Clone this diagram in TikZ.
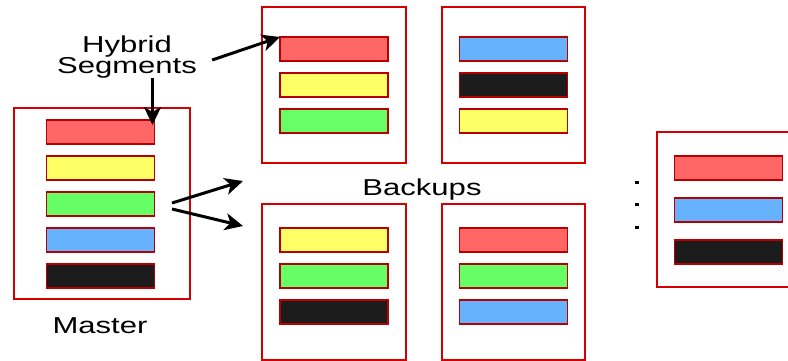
\documentclass[tikz,border=0pt]{standalone}
\usepackage{fontspec}
\setmainfont{Liberation Sans}
\usepackage{xcolor}
\definecolor{rahmen}{HTML}{D40000}
\definecolor{kante}{HTML}{B80000}
\definecolor{segrot}{HTML}{FF6666}
\definecolor{seggelb}{HTML}{FFFF66}
\definecolor{seggruen}{HTML}{66FF66}
\definecolor{segblau}{HTML}{66B2FF}
\definecolor{segschwarz}{HTML}{1C1C1C}
\usetikzlibrary{arrows.meta, positioning}

\begin{document}
\begin{tikzpicture}[x=1pt, y=-1pt, node distance=12pt,
    server/.style={rectangle, draw=rahmen, line width=1.3pt, anchor=north west, minimum width=144pt, minimum height=156pt, inner sep=0pt, outer sep=0pt},
    seg/.style={rectangle, draw=kante, line width=1.2pt, minimum width=108pt, minimum height=24pt, inner sep=0pt, outer sep=0pt},
    schrift/.style={font=\fontsize{23}{21}\selectfont, xscale=1.35, inner sep=0pt, align=center},
    pfeil/.style={-{Stealth[length=18pt, width=17pt, inset=5pt]}, line width=3pt}]

        \useasboundingbox (0,0) rectangle (788,360);

        % Master
        \node[server, minimum width=176pt, minimum height=191pt] (master) at (14,108) {};
        \node[seg, fill=segrot] (m1) at (100.5,132) {};
        \node[seg, below=of m1, fill=seggelb] (m2) {};
        \node[seg, below=of m2, fill=seggruen] (m3) {};
        \node[seg, below=of m3, fill=segblau] (m4) {};
        \node[seg, below=of m4, fill=segschwarz] (m5) {};
        \node[schrift, anchor=base] (masterlabel) at (100,333) {Master};

        % Erstes Backup oben
        \node[server] (b1) at (262,7) {};
        \node[seg, fill=segrot] (b11) at (334,49) {};
        \node[seg, below=of b11, fill=seggelb] (b12) {};
        \node[seg, below=of b12, fill=seggruen] (b13) {};

        % Zweites Backup oben
        \node[server, minimum width=143pt] (b2) at (442,7) {};
        \node[seg, fill=segblau] (b21) at (513.5,49) {};
        \node[seg, below=of b21, fill=segschwarz] (b22) {};
        \node[seg, below=of b22, fill=seggelb] (b23) {};

        % Drittes Backup unten
        \node[server] (b3) at (262,204) {};
        \node[seg, fill=seggelb] (b31) at (334,240) {};
        \node[seg, below=of b31, fill=seggruen] (b32) {};
        \node[seg, below=of b32, fill=segschwarz] (b33) {};

        % Viertes Backup unten
        \node[server, minimum width=143pt] (b4) at (442,204) {};
        \node[seg, fill=segrot] (b41) at (513.5,240) {};
        \node[seg, below=of b41, fill=seggruen] (b42) {};
        \node[seg, below=of b42, fill=segblau] (b43) {};

        \node[schrift, anchor=base] (backups) at (422,195) {Backups};

        % Weiteres Backup rechts
        \node[server, minimum height=155pt] (b5) at (657,132) {};
        \node[seg, fill=segrot] (b51) at (728.5,168) {};
        \node[seg, below=18pt of b51, fill=segblau] (b52) {};
        \node[seg, below=18pt of b52, fill=segschwarz] (b53) {};

        % Punkte
        \fill (635,180.5) rectangle +(4,3);
        \fill (635,202.5) rectangle +(4,3);
        \fill (635,225.5) rectangle +(4,3);

        % Beschriftung
        \node[schrift] (hybrid) at (127,57) {Hybrid\\Segments};

        % Pfeile
        \coordinate (spitzeA) at ([xshift=-2pt, yshift=-5pt]m1.north east);
        \coordinate (startB) at ([xshift=15pt, yshift=-3pt]hybrid.east);
        \coordinate (gabelO) at (172,203);
        \coordinate (gabelU) at (172,209);
        \coordinate (zielO) at (243,181);
        \coordinate (zielU) at (243,226);

        \draw[pfeil] (hybrid.south -| spitzeA) -- (spitzeA);
        \draw[pfeil] (startB) -- (b11.north west);
        \draw[pfeil] (gabelO) -- (zielO);
        \draw[pfeil] (gabelU) -- (zielU);

      \end{tikzpicture}
\end{document}
